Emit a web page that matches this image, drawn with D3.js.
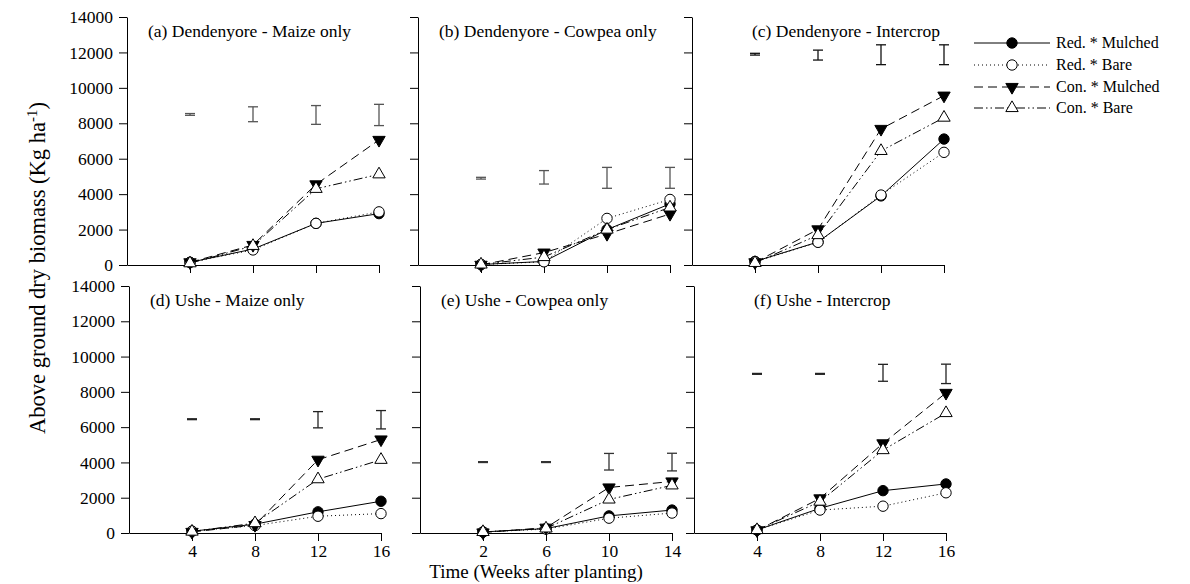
<!DOCTYPE html>
<html>
<head>
<meta charset="utf-8">
<script src="https://cdn.jsdelivr.net/npm/d3@7"></script>
<style>
body { margin: 0; background: #fff; }
text { font-family: "Liberation Serif", "Times New Roman", serif; fill: #000; }
</style>
</head>
<body>
<div id="chart"></div>
<script>
// treatments, in legend order
const series = ["Red. * Mulched", "Red. * Bare", "Con. * Mulched", "Con. * Bare"];

const titles = [
    "(a) Dendenyore - Maize only", "(b) Dendenyore - Cowpea only", "(c) Dendenyore - Intercrop",
    "(d) Ushe - Maize only", "(e) Ushe - Cowpea only", "(f) Ushe - Intercrop"
];

// sampling weeks
const weeksMaize = [4, 8, 12, 16];
const weeksCowpea = [2, 6, 10, 14];
const yTicks = [0, 2000, 4000, 6000, 8000, 10000, 12000, 14000];

// biomass (kg/ha), one row per treatment in series order
const dendMaize = [[150, 900, 2350, 2900], [150, 850, 2350, 3000], [150, 1130, 4550, 7060], [100, 1080, 4300, 5120]];
const dendCowpea = [[30, 200, 2000, 3450], [30, 180, 2630, 3700], [10, 700, 1750, 2880], [30, 450, 2000, 3250]];
const dendInter = [[200, 1300, 3900, 7110], [180, 1280, 3950, 6360], [150, 2010, 7680, 9560], [120, 1690, 6440, 8320]];
const usheMaize = [[100, 500, 1200, 1800], [100, 420, 950, 1100], [60, 450, 4150, 5300], [80, 560, 3050, 4150]];
const usheCowpea = [[60, 250, 970, 1300], [60, 220, 840, 1130], [30, 300, 2580, 2920], [60, 260, 1900, 2700]];
const usheInter = [[170, 1400, 2400, 2780], [170, 1300, 1520, 2280], [150, 1960, 5080, 7940], [170, 1780, 4700, 6800]];

// LSD bars: [centre, half length] at each week
const dendMaizeErr = [[8500, 50], [8510, 420], [8470, 530], [8470, 600]];
const dendCowpeaErr = [[4900, 50], [4950, 380], [4920, 590], [4920, 590]];
const dendInterErr = [[11900, 50], [11850, 280], [11870, 560], [11870, 560]];
const usheMaizeErr = [[6450, 25], [6450, 25], [6420, 460], [6420, 520]];
const usheCowpeaErr = [[4020, 25], [4020, 25], [4040, 470], [4020, 500]];
const usheInterErr = [[9020, 25], [9020, 25], [9080, 480], [9020, 550]];

const panels = [
    { weeks: weeksMaize, data: dendMaize, err: dendMaizeErr },
    { weeks: weeksCowpea, data: dendCowpea, err: dendCowpeaErr },
    { weeks: weeksMaize, data: dendInter, err: dendInterErr },
    { weeks: weeksMaize, data: usheMaize, err: usheMaizeErr },
    { weeks: weeksCowpea, data: usheCowpea, err: usheCowpeaErr },
    { weeks: weeksMaize, data: usheInter, err: usheInterErr }
];

const width = 1190, height = 584;
const panelW = 252;
const lefts = [[127, 418, 692], [129, 420, 694]];
const rows = [{ top: 17, bottom: 265 }, { top: 286, bottom: 533 }];
const titleDx = [21, 21, 60];
const dashes = [null, "1,3", "9,5", "9,3,1.5,3,1.5,3"];
const fills = ["#000", "#fff", "#000", "#fff"];
const errColor = ["#555", "#555", "#111", "#222", "#333", "#222"];

const svg = d3.select("#chart")
    .append("svg")
    .attr("width", width)
    .attr("height", height);

function marker(sel, k) {
    if (k < 2) {
        sel.append("circle").attr("r", 5.2);
    } else {
        sel.append("path")
            .attr("d", d3.symbol(d3.symbolTriangle, 66)())
            .attr("transform", k === 2 ? "rotate(180)" : null);
    }
    sel.selectAll("circle,path")
        .attr("fill", fills[k])
        .attr("stroke", "#000")
        .attr("stroke-width", 1);
}

panels.forEach((p, i) => {
    const r = Math.floor(i / 3), c = i % 3;
    const left = lefts[r][c];
    const x0 = p.weeks[0] === 2 ? -2 : 0;
    const x = d3.scaleLinear().domain([x0, x0 + 16]).range([left, left + panelW]);
    const y = d3.scaleLinear().domain([0, 14000]).range([rows[r].bottom, rows[r].top]);

    const g = svg.append("g");

    // axes
    const gx = g.append("g")
        .attr("transform", `translate(0,${rows[r].bottom})`)
        .call(d3.axisBottom(x).tickValues(p.weeks).tickSize(8).tickSizeOuter(0).tickPadding(4)
            .tickFormat(r === 1 ? d3.format("d") : () => ""));
    const gy = g.append("g")
        .attr("transform", `translate(${left},0)`)
        .call(d3.axisLeft(y).tickValues(yTicks).tickSize(8).tickSizeOuter(0).tickPadding(6)
            .tickFormat(c === 0 ? d3.format("d") : () => ""));
    [gx, gy].forEach(a => {
        a.attr("font-family", null).attr("font-size", null);
        a.selectAll("text").style("font-size", "17.5px");
        a.selectAll("path,line").attr("stroke", "#000");
    });

    // title
    g.append("text")
        .attr("x", left + titleDx[c])
        .attr("y", rows[r].top + 20)
        .style("font-size", "17.5px")
        .text(titles[i]);

    // LSD bars
    p.err.forEach((e, j) => {
        const cx = x(p.weeks[j]);
        const y1 = y(e[0] - e[1]), y2 = y(e[0] + e[1]);
        const eb = g.append("g").attr("stroke", errColor[i]).attr("stroke-width", 1.3);
        eb.append("line").attr("x1", cx).attr("x2", cx).attr("y1", y1).attr("y2", y2);
        eb.append("line").attr("x1", cx - 5).attr("x2", cx + 5).attr("y1", y1).attr("y2", y1);
        eb.append("line").attr("x1", cx - 5).attr("x2", cx + 5).attr("y1", y2).attr("y2", y2);
    });

    // lines
    const line = d3.line().x((d, j) => x(p.weeks[j])).y(d => y(d));
    p.data.forEach((vals, k) => {
        g.append("path")
            .attr("d", line(vals))
            .attr("fill", "none")
            .attr("stroke", "#000")
            .attr("stroke-width", 1)
            .attr("stroke-dasharray", dashes[k]);
    });
    p.data.forEach((vals, k) => {
        vals.forEach((v, j) => {
            marker(g.append("g").attr("transform", `translate(${x(p.weeks[j])},${y(v)})`), k);
        });
    });
});

// axis titles
svg.append("text")
    .attr("x", 536)
    .attr("y", 578)
    .attr("text-anchor", "middle")
    .style("font-size", "19px")
    .text("Time (Weeks after planting)");

const yt = svg.append("text")
    .attr("transform", "translate(45,268) rotate(-90)")
    .attr("text-anchor", "middle")
    .style("font-size", "22.5px");
yt.append("tspan").text("Above ground dry biomass (Kg ha");
yt.append("tspan").attr("dy", -8).style("font-size", "15px").text("-1");
yt.append("tspan").attr("dy", 8).text(")");

// legend
const legendY = [43, 65, 87, 108];
series.forEach((s, k) => {
    const lg = svg.append("g").attr("transform", `translate(0,${legendY[k]})`);
    lg.append("line")
        .attr("x1", 974).attr("x2", 1050)
        .attr("stroke", "#000").attr("stroke-width", 1)
        .attr("stroke-dasharray", dashes[k]);
    marker(lg.append("g").attr("transform", "translate(1012,0)"), k);
    lg.append("text")
        .attr("x", 1056)
        .attr("y", 5)
        .style("font-size", "16px")
        .text(s);
});
</script>
</body>
</html>
